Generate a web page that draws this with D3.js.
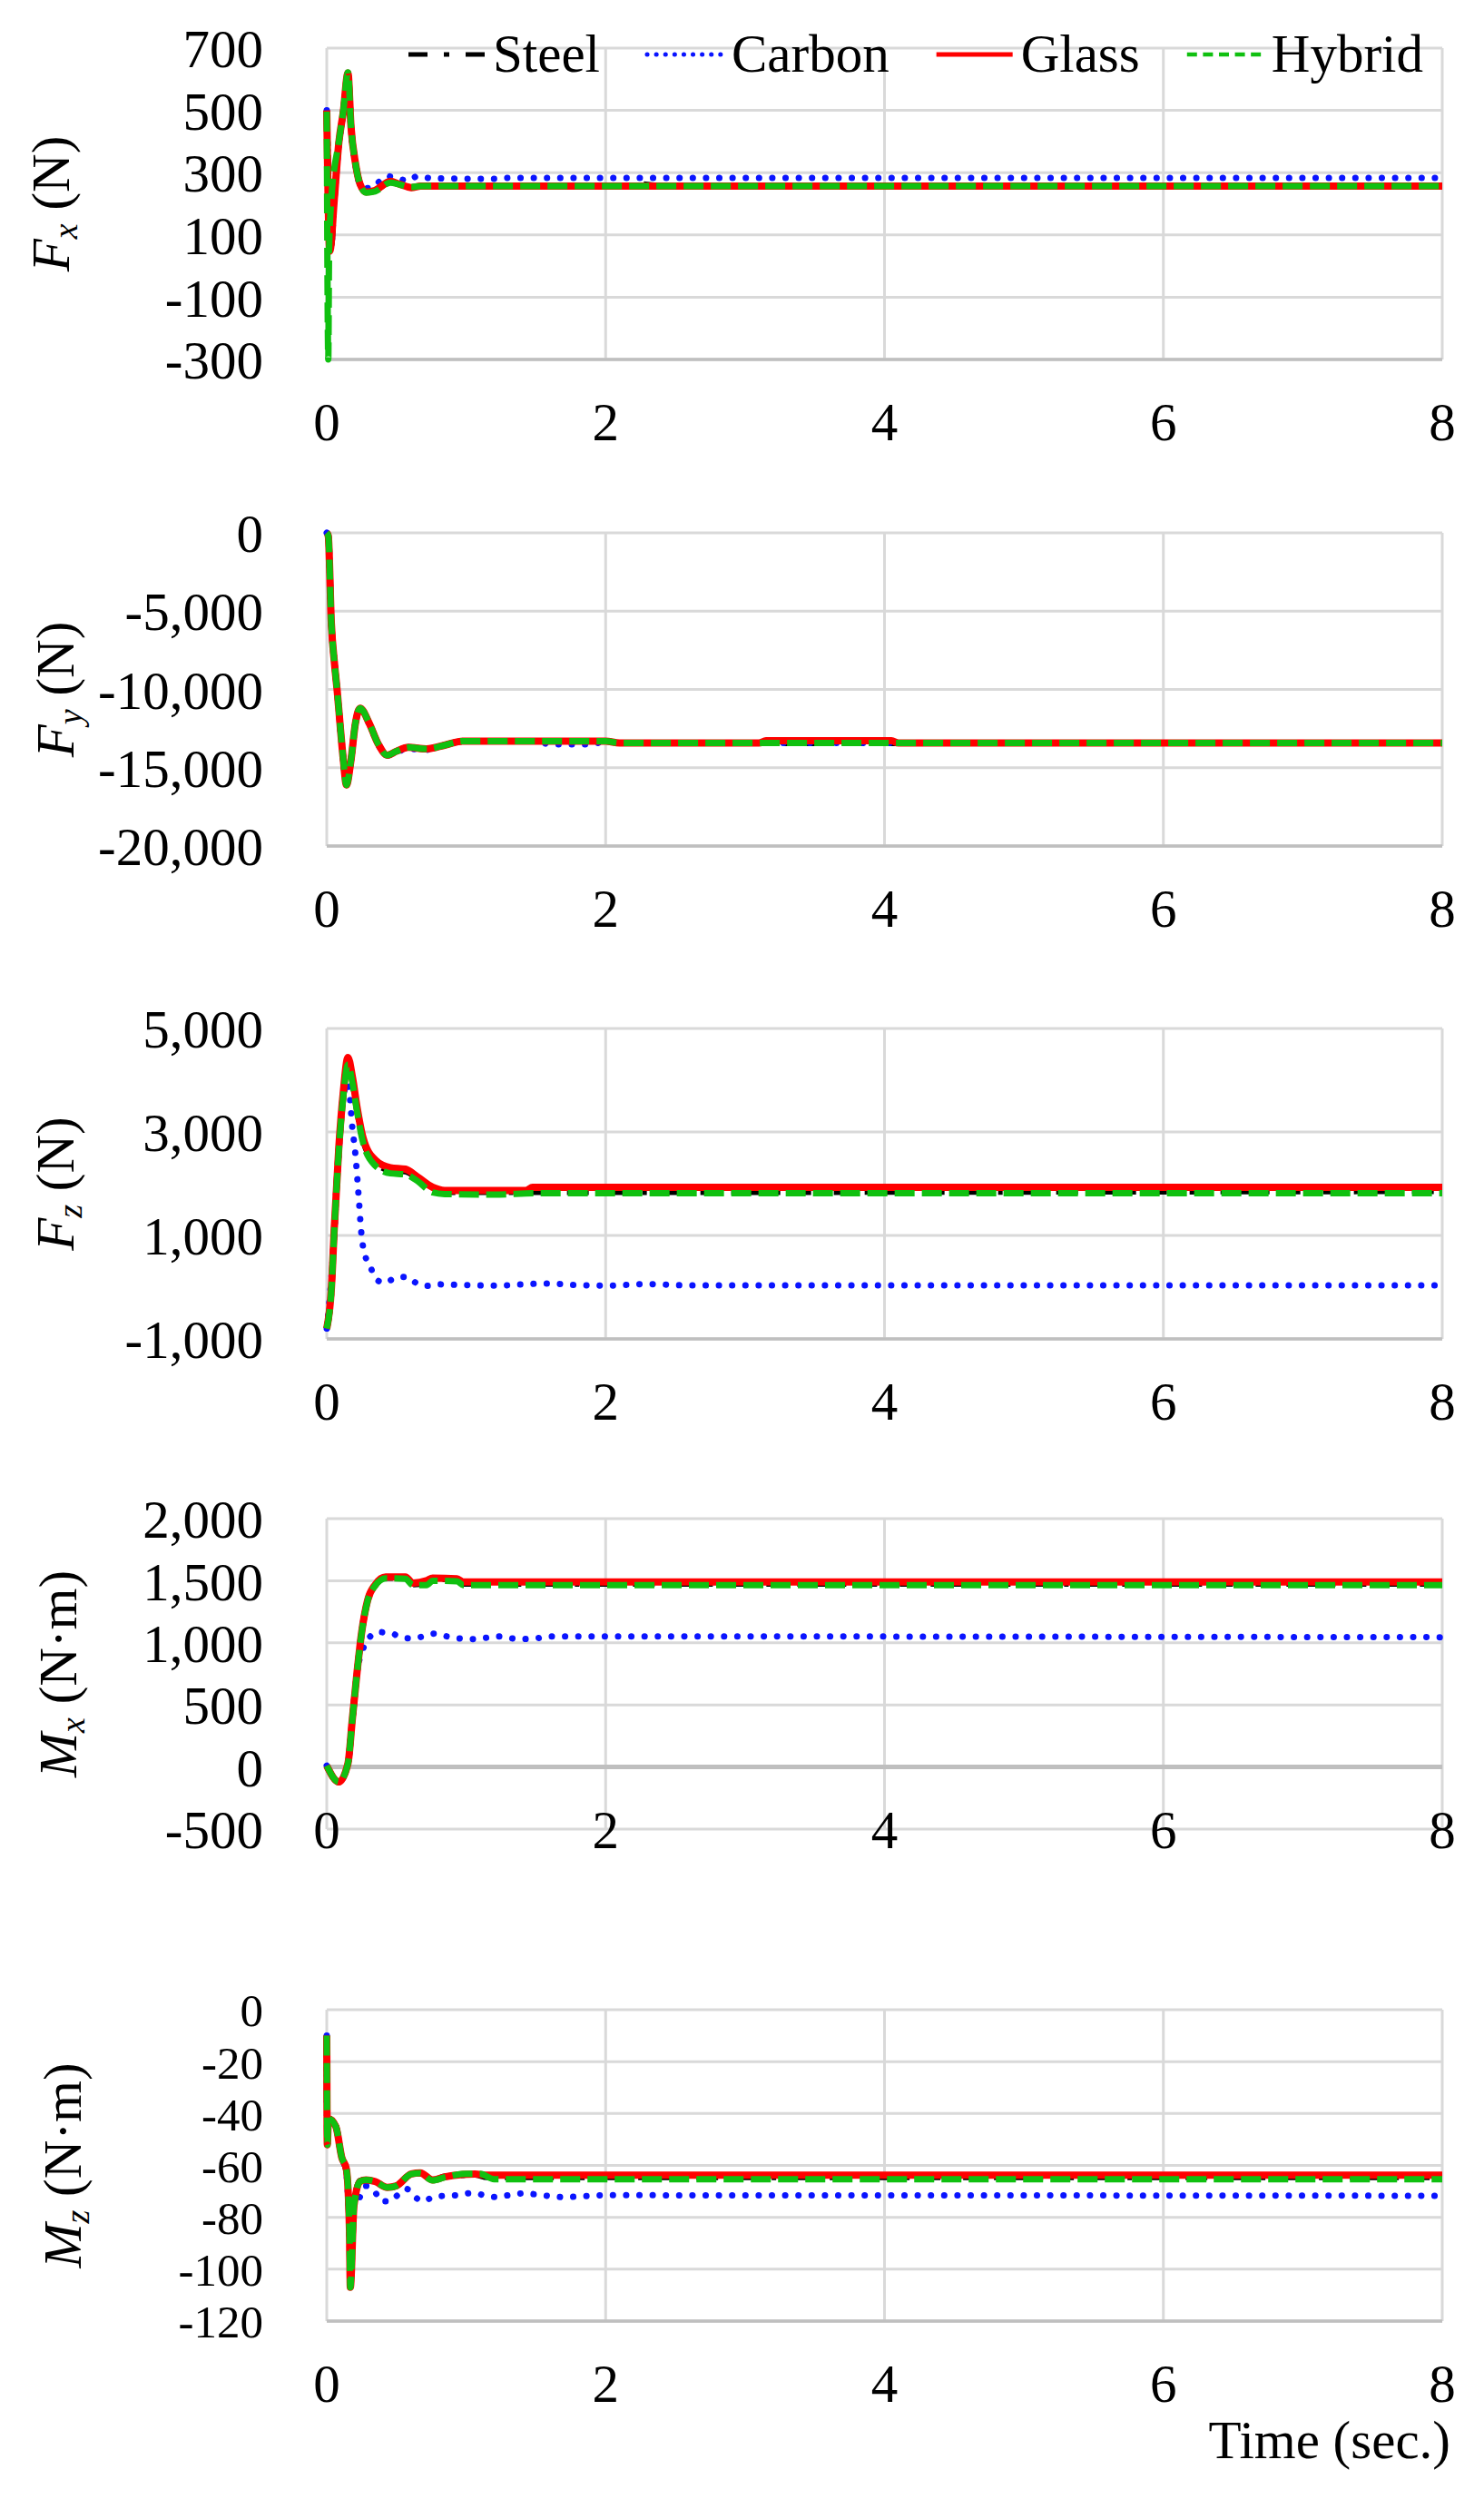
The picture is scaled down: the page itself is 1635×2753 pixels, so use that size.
<!DOCTYPE html>
<html>
<head>
<meta charset="utf-8">
<script src="https://cdnjs.cloudflare.com/ajax/libs/d3/7.8.5/d3.min.js"></script>
<style>
    body { margin: 0; background: #fff; }
    svg { display: block; font-family: "Liberation Serif", "Times New Roman", serif; }
</style>
</head>
<body>
<script>
    // ---- data: [time (s), value] ----
    var seriesNames = ["Steel", "Carbon", "Glass", "Hybrid"];
    var timeTicks = [0, 2, 4, 6, 8];

    // Fx (N)
    var fxTicks = [-300, -100, 100, 300, 500, 700];
    var fxSteel = [[0, 500], [0.03, 65], [0.054, 214], [0.087, 398], [0.119, 496], [0.152, 618], [0.174, 447], [0.206, 330], [0.239, 263], [0.282, 238], [0.347, 243], [0.456, 270], [0.521, 263], [0.608, 252], [0.673, 257], [2.2, 258], [2.25, 263], [2.35, 258], [8, 258]];
    var fxCarbon = [[0, 500], [0.03, 60], [0.054, 210], [0.087, 390], [0.119, 490], [0.152, 605], [0.174, 440], [0.206, 325], [0.239, 262], [0.304, 250], [0.36, 265], [0.43, 289], [0.5, 282], [0.586, 274], [0.651, 289], [0.75, 282], [1.2, 280], [1.3, 283], [8, 283]];
    var fxGlass = [[0, 500], [0.022, 48], [0.054, 214], [0.087, 398], [0.119, 496], [0.152, 620], [0.174, 447], [0.206, 330], [0.239, 263], [0.282, 238], [0.347, 243], [0.456, 272], [0.521, 263], [0.608, 252], [0.673, 257], [8, 257]];
    var fxHybrid = [[0, 496], [0.011, -300], [0.017, 58], [0.033, 214], [0.087, 400], [0.119, 500], [0.152, 622], [0.174, 450], [0.206, 330], [0.239, 262], [0.282, 236], [0.347, 240], [0.456, 268], [0.521, 262], [0.608, 254], [0.673, 257], [8, 257]];

    // Fy (N)
    var fyTicks = [-20000, -15000, -10000, -5000, 0];
    var fySteel = [[0, 0], [0.011, -200], [0.033, -5800], [0.055, -8300], [0.076, -10200], [0.098, -12500], [0.12, -14600], [0.141, -16100], [0.174, -14500], [0.205, -12200], [0.239, -11200], [0.304, -12150], [0.37, -13500], [0.434, -14200], [0.5, -13950], [0.586, -13700], [0.716, -13800], [0.85, -13550], [0.977, -13300], [2.0, -13300], [2.1, -13420], [8, -13420]];
    var fyCarbon = [[0, 0], [0.011, -200], [0.033, -5800], [0.055, -8300], [0.076, -10200], [0.098, -12500], [0.12, -14600], [0.141, -16000], [0.174, -14500], [0.205, -12200], [0.239, -11250], [0.304, -12200], [0.37, -13550], [0.434, -14200], [0.5, -14000], [0.586, -13800], [0.716, -13850], [0.85, -13550], [0.977, -13300], [1.5, -13300], [1.6, -13500], [1.9, -13500], [2.0, -13320], [2.1, -13420], [8, -13420]];
    var fyGlass = [[0, 0], [0.011, -200], [0.033, -5800], [0.055, -8300], [0.076, -10200], [0.098, -12500], [0.12, -14600], [0.141, -16100], [0.174, -14500], [0.205, -12200], [0.239, -11200], [0.304, -12150], [0.37, -13500], [0.434, -14200], [0.5, -13950], [0.586, -13700], [0.716, -13800], [0.85, -13550], [0.977, -13300], [2.0, -13300], [2.1, -13420], [3.1, -13420], [3.15, -13280], [4.05, -13280], [4.1, -13420], [8, -13420]];
    var fyHybrid = [[0, 0], [0.011, -200], [0.033, -5800], [0.055, -8300], [0.076, -10200], [0.098, -12500], [0.12, -14600], [0.141, -16100], [0.174, -14500], [0.205, -12200], [0.239, -11200], [0.304, -12150], [0.37, -13500], [0.434, -14200], [0.5, -13950], [0.586, -13700], [0.716, -13800], [0.85, -13550], [0.977, -13300], [2.0, -13300], [2.1, -13420], [8, -13420]];

    // Fz (N)
    var fzTicks = [-1000, 1000, 3000, 5000];
    var fzSteel = [[0, -800], [0.033, -40], [0.054, 1120], [0.087, 2700], [0.119, 3750], [0.152, 4400], [0.184, 4000], [0.217, 3450], [0.26, 2850], [0.347, 2420], [0.456, 2260], [0.564, 2240], [0.651, 2100], [0.76, 1880], [0.846, 1840], [8, 1860]];
    var fzCarbon = [[0, -800], [0.043, 550], [0.076, 2130], [0.108, 3480], [0.152, 3950], [0.184, 3070], [0.206, 2550], [0.228, 1780], [0.249, 1020], [0.282, 550], [0.315, 380], [0.347, 172], [0.412, 84], [0.488, 172], [0.575, 200], [0.64, 84], [0.716, 25], [0.803, 55], [1.0, 40], [1.2, 30], [1.577, 72], [1.8, 40], [2.0, 30], [2.3, 60], [2.6, 35], [8, 35]];
    var fzGlass = [[0, -800], [0.033, -30], [0.054, 1140], [0.087, 2720], [0.119, 3780], [0.152, 4440], [0.184, 4060], [0.217, 3480], [0.26, 2890], [0.347, 2460], [0.456, 2310], [0.564, 2280], [0.651, 2130], [0.76, 1930], [0.846, 1870], [1.43, 1870], [1.476, 1930], [8, 1930]];
    var fzHybrid = [[0, -800], [0.033, -60], [0.054, 1100], [0.087, 2650], [0.119, 3700], [0.152, 4300], [0.184, 3950], [0.217, 3400], [0.26, 2800], [0.347, 2350], [0.456, 2200], [0.564, 2180], [0.651, 2050], [0.76, 1830], [0.846, 1800], [1.2, 1790], [1.5, 1815], [8, 1815]];

    // Mx (N·m)
    var mxTicks = [-500, 0, 500, 1000, 1500, 2000];
    var mxSteel = [[0, 10], [0.087, -120], [0.152, 28], [0.184, 390], [0.217, 758], [0.249, 1072], [0.293, 1340], [0.347, 1465], [0.423, 1525], [0.564, 1522], [0.618, 1472], [0.716, 1482], [0.76, 1515], [0.933, 1510], [0.98, 1478], [8, 1478]];
    var mxCarbon = [[0, 10], [0.087, -120], [0.152, 28], [0.184, 390], [0.217, 758], [0.26, 950], [0.293, 1025], [0.369, 1086], [0.456, 1080], [0.521, 1050], [0.608, 1035], [0.694, 1052], [0.77, 1074], [0.868, 1050], [0.955, 1035], [1.042, 1030], [1.14, 1040], [1.215, 1052], [1.389, 1030], [1.5, 1035], [1.58, 1052], [8, 1045]];
    var mxGlass = [[0, 10], [0.087, -120], [0.152, 28], [0.184, 392], [0.217, 760], [0.249, 1074], [0.293, 1342], [0.347, 1467], [0.423, 1530], [0.564, 1530], [0.618, 1481], [0.716, 1500], [0.76, 1522], [0.933, 1515], [0.98, 1490], [8, 1490]];
    var mxHybrid = [[0, 10], [0.087, -120], [0.152, 28], [0.184, 390], [0.217, 758], [0.249, 1070], [0.293, 1338], [0.347, 1460], [0.423, 1520], [0.564, 1515], [0.618, 1465], [0.716, 1465], [0.76, 1500], [0.933, 1495], [0.98, 1465], [8, 1465]];

    // Mz (N·m)
    var mzTicks = [-120, -100, -80, -60, -40, -20, 0];
    var mzSteel = [[0, -10], [0.004, -52], [0.012, -42], [0.065, -45], [0.108, -57], [0.141, -62], [0.163, -85], [0.169, -106], [0.195, -75.5], [0.239, -66], [0.282, -65.6], [0.347, -66.2], [0.434, -68.5], [0.499, -67.9], [0.607, -63.3], [0.67, -63], [0.76, -65.6], [0.846, -64.4], [1.063, -63.5], [1.15, -64.5], [8, -64.5]];
    var mzCarbon = [[0, -10], [0.004, -52], [0.012, -42], [0.065, -45], [0.108, -57], [0.141, -63], [0.163, -78], [0.185, -76], [0.217, -74.4], [0.282, -67.9], [0.347, -70.3], [0.39, -73.8], [0.456, -73.8], [0.51, -71.4], [0.575, -69.1], [0.629, -72], [0.694, -73.8], [0.77, -72], [0.955, -71.4], [1.04, -70.6], [1.2, -72.2], [1.4, -70.8], [1.7, -72.2], [2.0, -71.5], [8, -71.7]];
    var mzGlass = [[0, -10], [0.004, -52], [0.012, -42], [0.065, -45], [0.108, -57], [0.141, -61.5], [0.163, -85], [0.169, -107], [0.195, -75.5], [0.239, -66.2], [0.282, -65.6], [0.347, -66.2], [0.434, -68.5], [0.499, -67.9], [0.607, -63.3], [0.67, -62.9], [0.76, -65.6], [0.846, -64.4], [1.063, -63.3], [1.15, -63.8], [8, -63.8]];
    var mzHybrid = [[0, -10], [0.004, -52], [0.012, -42], [0.065, -45], [0.108, -57], [0.141, -61.5], [0.163, -85], [0.169, -107], [0.195, -75.5], [0.239, -66.2], [0.282, -65.6], [0.347, -66.2], [0.434, -68.5], [0.499, -67.9], [0.607, -63.3], [0.67, -63], [0.76, -65.8], [0.846, -64.6], [1.0, -63.2], [1.1, -63.2], [1.2, -65.3], [8, -65.3]];

    // ---- layout ----
    var W = 1635, H = 2753;
    var left = 360, right = 1589;
    var fontSize = 59;

    var styles = [
        { color: "#000000", width: 7, dash: "24,10,5,10", cap: "butt", legendDash: "21,18,6,18", legendWidth: 5 },
        { color: "#0a14ff", width: 7, dash: "0.1,14.5", cap: "round", legendDash: "0.1,10", legendWidth: 5 },
        { color: "#ff0000", width: 8, dash: null, cap: "butt", legendDash: null, legendWidth: 5 },
        { color: "#10c010", width: 7, dash: "22,8", cap: "butt", legendDash: "11,6.6", legendWidth: 4.5 }
    ];

    var panels = [
        { sym: "F", sub: "x", unit: "N", ticks: fxTicks, top: 53, bottom: 396, titleX: 76, labelSize: 59, series: [fxSteel, fxCarbon, fxGlass, fxHybrid] },
        { sym: "F", sub: "y", unit: "N", ticks: fyTicks, top: 587, bottom: 932, titleX: 81, labelSize: 59, series: [fySteel, fyCarbon, fyGlass, fyHybrid] },
        { sym: "F", sub: "z", unit: "N", ticks: fzTicks, top: 1133, bottom: 1475, titleX: 81, labelSize: 59, series: [fzSteel, fzCarbon, fzGlass, fzHybrid] },
        { sym: "M", sub: "x", unit: "N·m", ticks: mxTicks, top: 1673, bottom: 2015, titleX: 84, labelSize: 59, axisAt: 0, series: [mxSteel, mxCarbon, mxGlass, mxHybrid] },
        { sym: "M", sub: "z", unit: "N·m", ticks: mzTicks, top: 2214, bottom: 2557, titleX: 89, labelSize: 51, series: [mzSteel, mzCarbon, mzGlass, mzHybrid] }
    ];

    var fmt = d3.formatLocale({ decimal: ".", thousands: ",", grouping: [3], currency: ["$", ""], minus: "-" }).format(",");

    var svg = d3.select("body").append("svg")
        .attr("width", W)
        .attr("height", H);

    svg.append("rect").attr("width", W).attr("height", H).attr("fill", "#fff");

    var x = d3.scaleLinear().domain([0, 8]).range([left, right]);

    panels.forEach(function (p) {
        var y = d3.scaleLinear()
            .domain(d3.extent(p.ticks))
            .range([p.bottom, p.top]);
        var g = svg.append("g");
        var axisVal = p.axisAt !== undefined ? p.axisAt : d3.min(p.ticks);

        // gridlines
        g.selectAll(".hgrid").data(p.ticks).enter().append("line")
            .attr("x1", left).attr("x2", right)
            .attr("y1", d => y(d)).attr("y2", d => y(d))
            .attr("stroke", "#d9d9d9").attr("stroke-width", 3);
        g.selectAll(".vgrid").data(timeTicks).enter().append("line")
            .attr("x1", d => x(d)).attr("x2", d => x(d))
            .attr("y1", p.top).attr("y2", p.bottom)
            .attr("stroke", "#d9d9d9").attr("stroke-width", 3);

        // horizontal axis line
        g.append("line")
            .attr("x1", left).attr("x2", right)
            .attr("y1", y(axisVal)).attr("y2", y(axisVal))
            .attr("stroke", "#bfbfbf")
            .attr("stroke-width", p.axisAt !== undefined ? 5 : 3.5);

        // y tick labels
        g.selectAll(".ylab").data(p.ticks).enter().append("text")
            .attr("x", 290).attr("y", d => y(d)).attr("dy", "0.36em")
            .attr("text-anchor", "end")
            .attr("font-size", p.labelSize)
            .attr("fill", "#000")
            .text(d => fmt(d));

        // x tick labels
        g.selectAll(".xlab").data(timeTicks).enter().append("text")
            .attr("x", d => x(d)).attr("y", y(axisVal) + 89)
            .attr("text-anchor", "middle")
            .attr("font-size", fontSize)
            .attr("fill", "#000")
            .text(d => d);

        // y axis title
        var t = g.append("text")
            .attr("transform", "translate(" + p.titleX + "," + (p.top + p.bottom) / 2 + ") rotate(-90)")
            .attr("text-anchor", "middle")
            .attr("font-size", fontSize)
            .attr("fill", "#000");
        t.append("tspan").attr("font-style", "italic").text(p.sym);
        t.append("tspan").attr("font-style", "italic").attr("font-size", 38).attr("dy", 9).text(p.sub);
        t.append("tspan").attr("dy", -9).text(" (" + p.unit + ")");

        // series
        var line = d3.line()
            .x(d => x(d[0]))
            .y(d => y(d[1]))
            .curve(d3.curveMonotoneX);

        p.series.forEach(function (s, i) {
            var st = styles[i];
            g.append("path")
                .datum(s)
                .attr("fill", "none")
                .attr("stroke", st.color)
                .attr("stroke-width", st.width)
                .attr("stroke-linecap", st.cap)
                .attr("stroke-linejoin", "round")
                .attr("stroke-dasharray", st.dash)
                .attr("d", line);
        });
    });

    // legend
    var lx = 450;
    seriesNames.forEach(function (name, i) {
        var st = styles[i];
        svg.append("line")
            .attr("x1", lx).attr("x2", lx + 84)
            .attr("y1", 60).attr("y2", 60)
            .attr("stroke", st.color)
            .attr("stroke-width", st.legendWidth)
            .attr("stroke-linecap", st.cap)
            .attr("stroke-dasharray", st.legendDash);
        var txt = svg.append("text")
            .attr("x", lx + 93).attr("y", 79)
            .attr("font-size", fontSize)
            .attr("fill", "#000")
            .text(name);
        lx = lx + 93 + txt.node().getComputedTextLength() + 52;
    });

    // x axis title
    svg.append("text")
        .attr("x", 1598).attr("y", 2708)
        .attr("text-anchor", "end")
        .attr("font-size", fontSize)
        .attr("fill", "#000")
        .text("Time (sec.)");
</script>
</body>
</html>
